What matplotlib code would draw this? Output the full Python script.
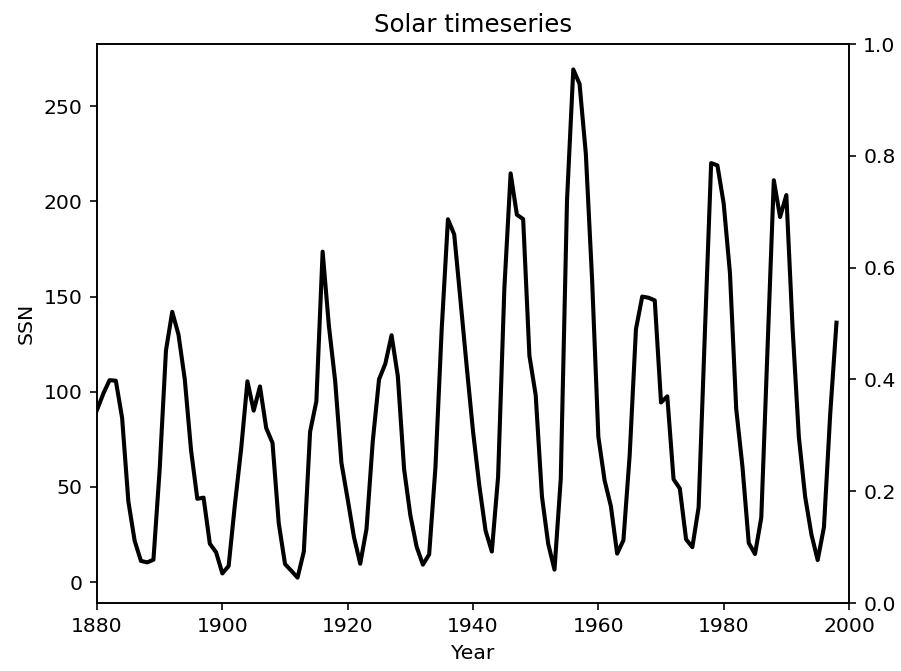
import numpy as np
import matplotlib
matplotlib.use("Agg")
import matplotlib.pyplot as plt

# yearly sunspot numbers
years = np.arange(1880, 1999)
ssn = [
    90.5, 99.0, 106.1, 105.8, 86.3, 42.4, 21.8, 11.2, 10.4, 11.8,
    59.5, 121.7, 142.0, 130.0, 106.6, 69.4, 43.8, 44.4, 20.2, 15.7,
    4.6, 8.5, 40.8, 70.1, 105.5, 90.1, 102.8, 80.9, 73.2, 30.9,
    9.5, 6.0, 2.4, 16.1, 79.0, 95.0, 173.6, 134.6, 105.7, 62.7,
    43.5, 23.7, 9.7, 27.9, 74.0, 106.5, 114.7, 129.7, 108.2, 59.4,
    35.1, 18.6, 9.2, 14.6, 60.2, 132.8, 190.6, 182.6, 148.0, 113.0,
    79.2, 50.8, 27.1, 16.1, 55.3, 154.3, 214.7, 193.0, 190.7, 118.9,
    98.3, 45.0, 20.1, 6.6, 54.2, 200.7, 269.3, 261.7, 225.1, 159.0,
    76.4, 53.4, 39.9, 15.0, 22.0, 66.8, 132.9, 150.0, 149.4, 148.0,
    94.4, 97.6, 54.1, 49.2, 22.5, 18.4, 39.3, 131.0, 220.1, 218.9,
    198.9, 162.4, 91.0, 60.5, 20.6, 14.8, 33.9, 123.0, 211.1, 191.8,
    203.3, 133.0, 76.1, 44.9, 25.1, 11.6, 28.9, 88.3, 136.3,
]

DPI = 147
fig, ax = plt.subplots(figsize=(901 / DPI, 671 / DPI), dpi=DPI)
fig.subplots_adjust(left=0.1077, right=0.9423, top=0.9344, bottom=0.1013)

ax.plot(years, ssn, color="black", lw=2)
ax.set_xlim(1880, 2000)
ax.set_xlabel("Year")
ax.set_ylabel("SSN")
ax.set_title("Solar timeseries")

# empty right axis (0..1)
ax2 = ax.twinx()

fig.savefig("out.png", dpi=DPI)
